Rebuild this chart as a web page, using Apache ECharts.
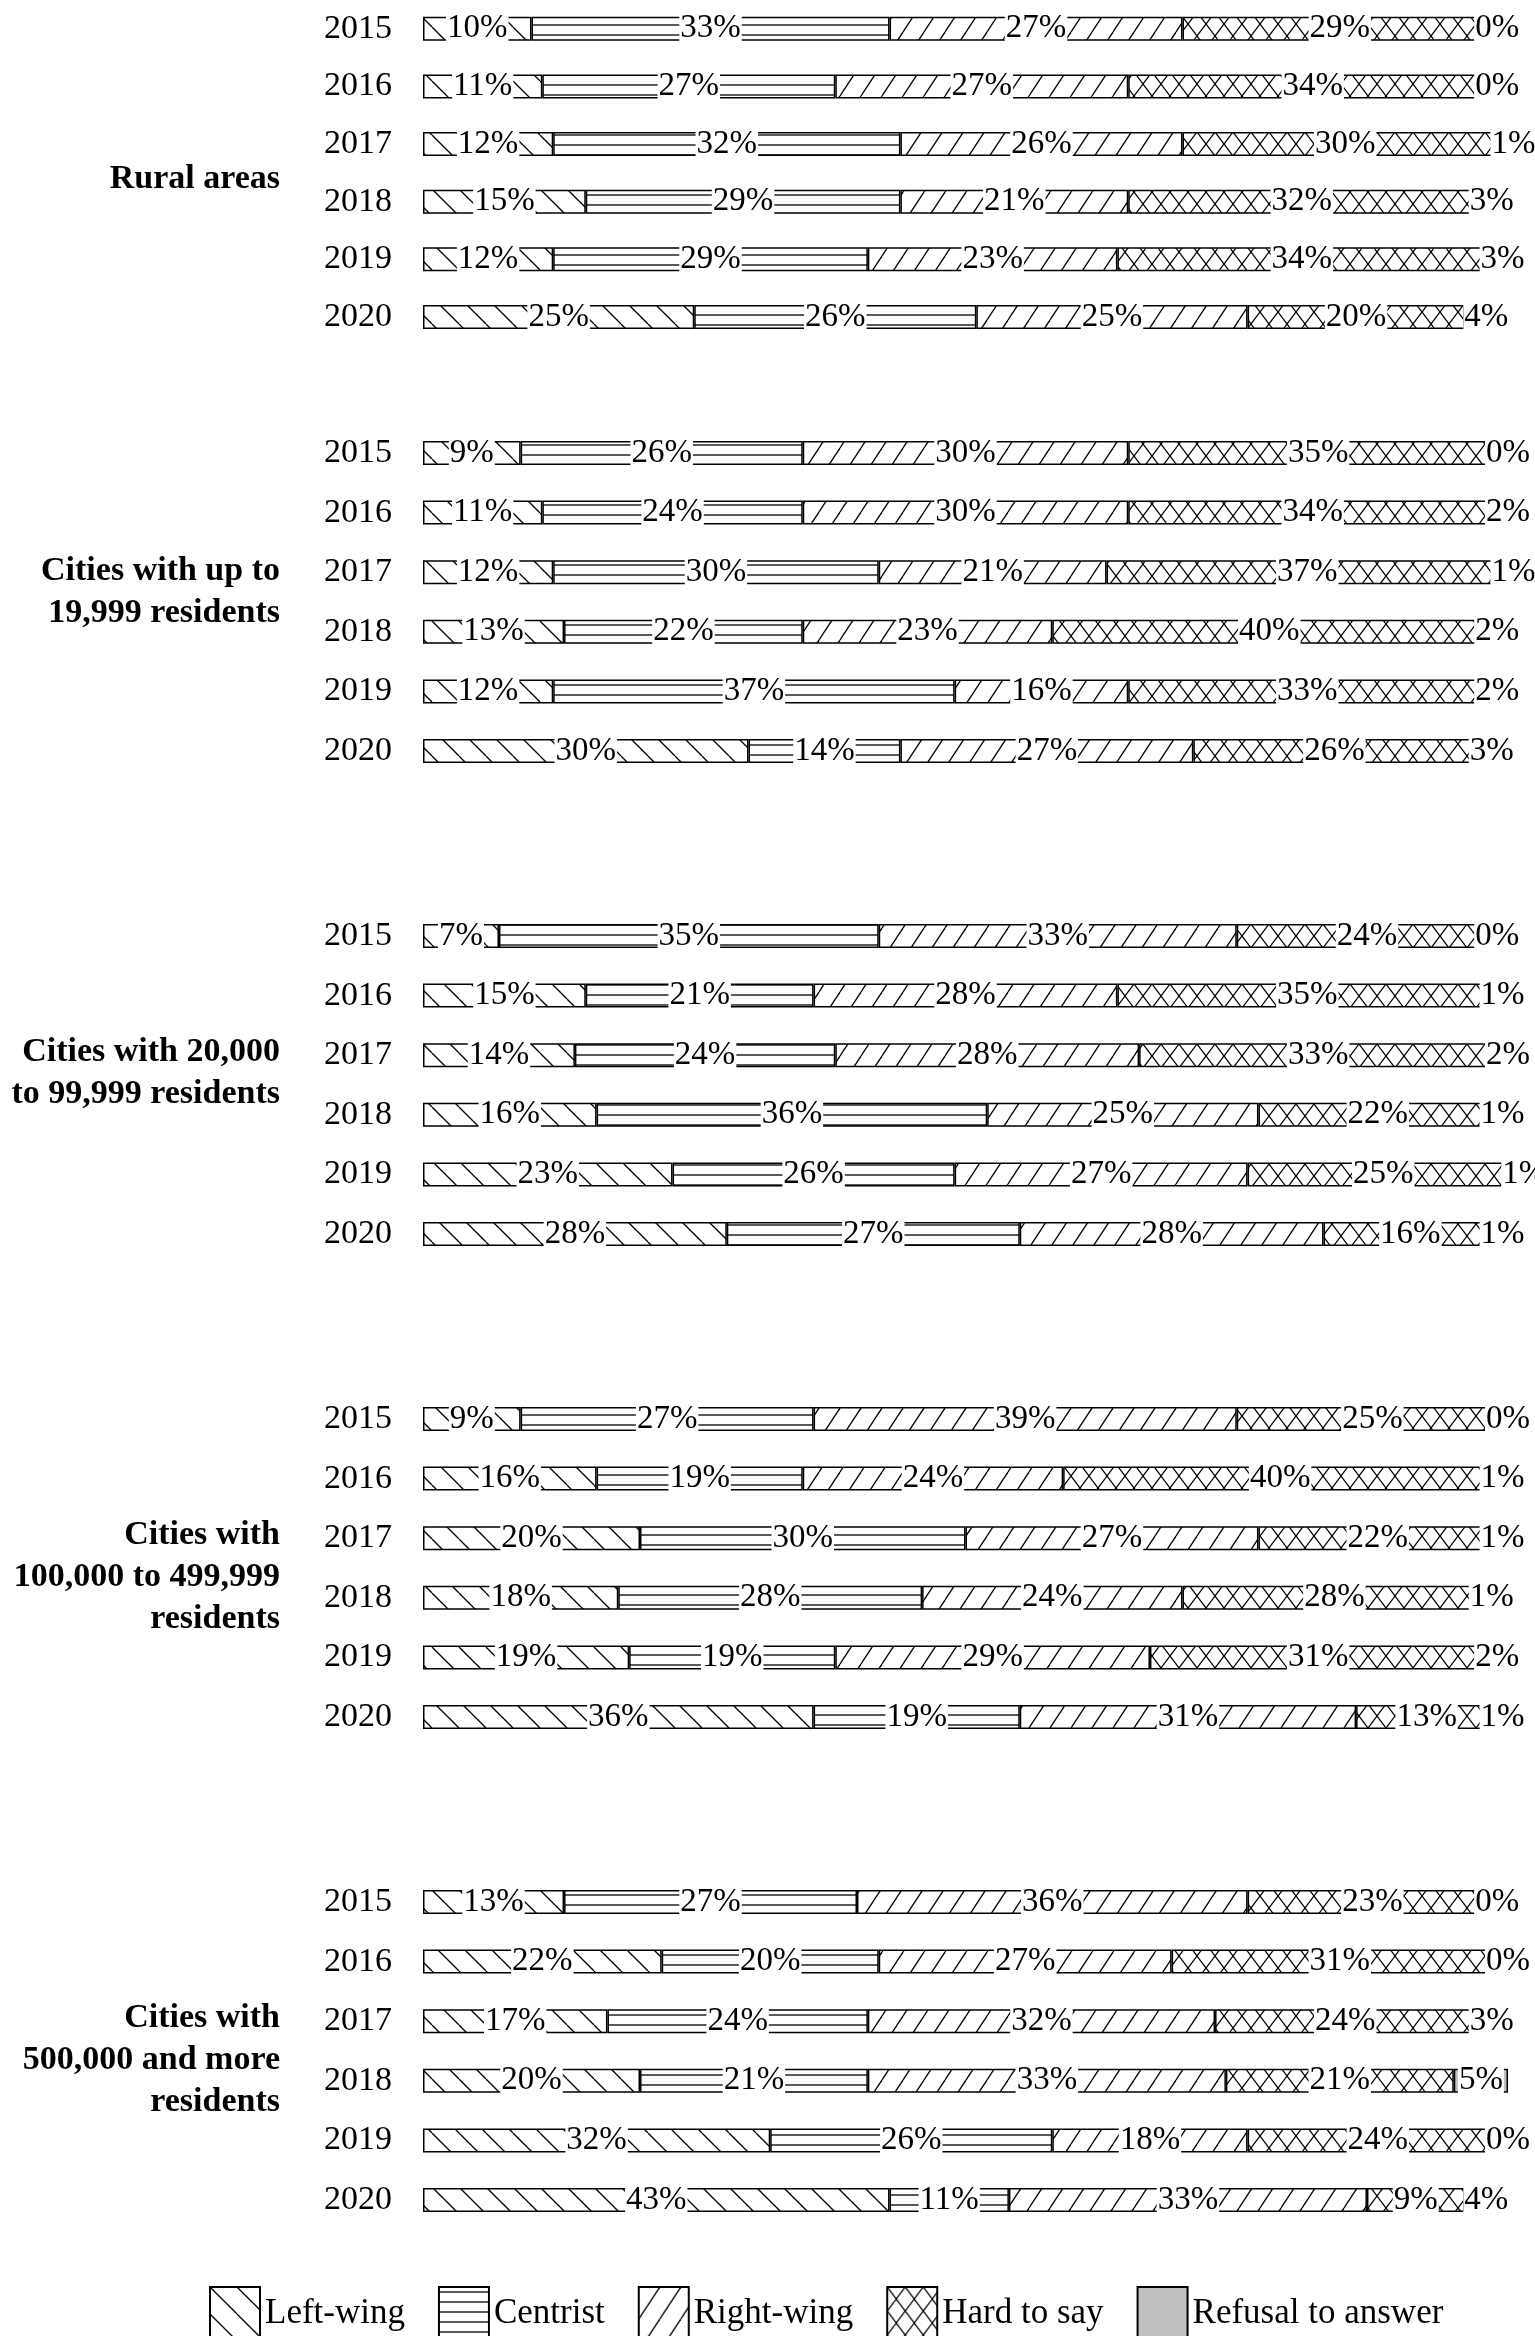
<!DOCTYPE html>
<html>
<head>
<meta charset="utf-8">
<script src="https://cdn.jsdelivr.net/npm/echarts@6/dist/echarts.min.js"></script>
<style>
  html, body { margin: 0; padding: 0; background: #fff; }
  #chart { width: 1535px; height: 2336px; }
</style>
</head>
<body>
<div id="chart"></div>
<script>
// years on every block, answers in stacking order
const years = ['2015', '2016', '2017', '2018', '2019', '2020']
const answers = ['Left-wing', 'Centrist', 'Right-wing', 'Hard to say', 'Refusal to answer']
const groupNames = [
  'Rural areas',
  'Cities with up to\n19,999 residents',
  'Cities with 20,000\nto 99,999 residents',
  'Cities with\n100,000 to 499,999\nresidents',
  'Cities with\n500,000 and more\nresidents'
]

// one row per year: left, centrist, right, hard to say, refusal (%)
const rural = [
  [10, 33, 27, 29, 0],
  [11, 27, 27, 34, 0],
  [12, 32, 26, 30, 1],
  [15, 29, 21, 32, 3],
  [12, 29, 23, 34, 3],
  [25, 26, 25, 20, 4]
]
const cityTo19999 = [
  [9, 26, 30, 35, 0],
  [11, 24, 30, 34, 2],
  [12, 30, 21, 37, 1],
  [13, 22, 23, 40, 2],
  [12, 37, 16, 33, 2],
  [30, 14, 27, 26, 3]
]
const city20000to99999 = [
  [7, 35, 33, 24, 0],
  [15, 21, 28, 35, 1],
  [14, 24, 28, 33, 2],
  [16, 36, 25, 22, 1],
  [23, 26, 27, 25, 1],
  [28, 27, 28, 16, 1]
]
const city100000to499999 = [
  [9, 27, 39, 25, 0],
  [16, 19, 24, 40, 1],
  [20, 30, 27, 22, 1],
  [18, 28, 24, 28, 1],
  [19, 19, 29, 31, 2],
  [36, 19, 31, 13, 1]
]
const city500000plus = [
  [13, 27, 36, 23, 0],
  [22, 20, 27, 31, 0],
  [17, 24, 32, 24, 3],
  [20, 21, 33, 21, 5],
  [32, 26, 18, 24, 0],
  [43, 11, 33, 9, 4]
]
const groups = [rural, cityTo19999, city20000to99999, city100000to499999, city500000plus]

const FONT = "'Liberation Serif', 'Times New Roman', serif"

// hatch fills drawn on a small canvas tile
function makePattern (w, h, draw) {
  const c = document.createElement('canvas')
  c.width = w
  c.height = h
  const ctx = c.getContext('2d')
  ctx.fillStyle = '#fff'
  ctx.fillRect(0, 0, w, h)
  ctx.strokeStyle = '#000'
  ctx.lineWidth = 1.3
  draw(ctx, w, h)
  return { image: c, repeat: 'repeat' }
}
function line (ctx, x1, y1, x2, y2) {
  ctx.beginPath()
  ctx.moveTo(x1, y1)
  ctx.lineTo(x2, y2)
  ctx.stroke()
}
const fills = [
  // left-wing: "\"
  makePattern(27, 27, (ctx, w, h) => {
    for (const k of [-1, 0, 1]) line(ctx, k * w, 0, k * w + w, h)
  }),
  // centrist: horizontal lines
  makePattern(8, 10, (ctx, w, h) => {
    line(ctx, 0, 5, w, 5)
  }),
  // right-wing: "/"
  makePattern(21, 32, (ctx, w, h) => {
    for (const k of [-1, 0, 1]) line(ctx, k * w, h, k * w + w, 0)
  }),
  // hard to say: cross hatch
  makePattern(18, 24, (ctx, w, h) => {
    for (const k of [-1, 0, 1]) {
      line(ctx, k * w, h, k * w + w, 0)
      line(ctx, k * w, 0, k * w + w, h)
    }
  }),
  // refusal: plain grey
  '#c0c0c0'
]

// first bar centre of each block, row pitch
const firstRowY = [18, 453, 936, 1419, 1902]
const rowPitch = 59.6
const labelY = [179, 592, 1073, 1577, 2060]
// some rows add up to 101-102 because of rounding, leave room so nothing is clipped
const xMax = 102
const pxPerPercent = 10.85

const grids = []
const xAxes = []
const yAxes = []
const series = []
groups.forEach((rows, g) => {
  grids.push({
    left: 423,
    width: pxPerPercent * xMax,
    top: firstRowY[g] - rowPitch / 2,
    height: rowPitch * years.length
  })
  xAxes.push({ gridIndex: g, type: 'value', min: 0, max: xMax, show: false })
  yAxes.push({
    gridIndex: g,
    type: 'category',
    data: years,
    inverse: true,
    axisLine: { show: false },
    axisTick: { show: false },
    splitLine: { show: false },
    axisLabel: { fontSize: 34, fontFamily: FONT, color: '#000', margin: 31 }
  })
  answers.forEach((name, a) => {
    series.push({
      type: 'bar',
      name: name,
      xAxisIndex: g,
      yAxisIndex: g,
      stack: 'g' + g,
      barWidth: 24,
      data: rows.map(r => r[a]),
      itemStyle: { color: fills[a], borderColor: '#000', borderWidth: 1.5 },
      label: {
        show: true,
        position: 'inside',
        formatter: '{c}%',
        color: '#000',
        fontSize: 33,
        fontFamily: FONT,
        backgroundColor: '#fff',
        lineHeight: 26,
        padding: [0, 1]
      },
      emphasis: { disabled: true }
    })
  })
})

const chart = echarts.init(document.getElementById('chart'))
chart.setOption({
  backgroundColor: '#fff',
  animation: false,
  grid: grids,
  xAxis: xAxes,
  yAxis: yAxes,
  legend: {
    data: answers,
    left: 204,
    top: 2281,
    icon: 'rect',
    itemWidth: 50,
    itemHeight: 53,
    itemGap: 33,
    itemStyle: { borderColor: '#000', borderWidth: 2 },
    textStyle: { fontSize: 35, fontFamily: FONT, color: '#000' }
  },
  graphic: groupNames.map((t, i) => ({
    type: 'text',
    x: 280,
    y: labelY[i],
    style: {
      text: t,
      align: 'right',
      verticalAlign: 'middle',
      fontSize: 34,
      fontWeight: 'bold',
      fontFamily: FONT,
      lineHeight: 42,
      fill: '#000'
    }
  })),
  series: series
})
</script>
</body>
</html>
